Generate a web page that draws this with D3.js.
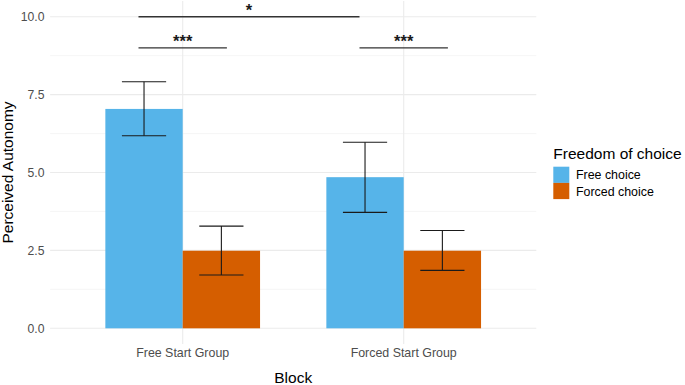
<!DOCTYPE html>
<html>
<head>
<meta charset="utf-8">
<script src="https://cdn.jsdelivr.net/npm/d3@7"></script>
<style>
  body { margin: 0; background: #fff; }
  svg { display: block; font-family: "Liberation Sans", Arial, sans-serif; }
</style>
</head>
<body>
<svg id="chart" width="685" height="385"></svg>
<script>
// data
const blocks = ["Free Start Group", "Forced Start Group"];
const choices = ["Free choice", "Forced choice"];
const choiceColors = ["#56B4E9", "#D55E00"];
const meanFree = [7.04, 4.85];
const meanForced = [2.49, 2.49];
const lowFree = [6.18, 3.72];
const highFree = [7.91, 5.97];
const lowForced = [1.71, 1.86];
const highForced = [3.28, 3.14];
const yTicks = [0, 2.5, 5, 7.5, 10];
const yMinor = [1.25, 3.75, 6.25, 8.75];
// significance brackets: [xmin, xmax, y, label] in data units
const sigX0 = [0.8, 1.8, 0.8];
const sigX1 = [1.2, 2.2, 1.8];
const sigY = [9, 9, 10];
const sigLabel = ["***", "***", "*"];

const svg = d3.select("#chart");

// scales (categories sit at 1 and 2, panel 0.4..2.6 like ggplot)
const x = d3.scaleLinear().domain([0.4, 2.6]).range([50.1, 536.3]);
const y = d3.scaleLinear().domain([-0.5, 10.5]).range([343.9, 1.1]);
const dodge = [-0.175, 0.175];
const barW = 0.35;

// grid
const grid = svg.append("g");
grid.selectAll("line.minor")
  .data(yMinor)
  .join("line")
    .attr("x1", x(0.4)).attr("x2", x(2.6))
    .attr("y1", d => y(d)).attr("y2", d => y(d))
    .attr("stroke", "#f2f2f2").attr("stroke-width", 0.7);
grid.selectAll("line.major")
  .data(yTicks)
  .join("line")
    .attr("x1", x(0.4)).attr("x2", x(2.6))
    .attr("y1", d => y(d)).attr("y2", d => y(d))
    .attr("stroke", "#ebebeb").attr("stroke-width", 1.1);
grid.selectAll("line.vmajor")
  .data(blocks)
  .join("line")
    .attr("x1", (d, i) => x(i + 1)).attr("x2", (d, i) => x(i + 1))
    .attr("y1", y(-0.5)).attr("y2", y(10.5))
    .attr("stroke", "#ebebeb").attr("stroke-width", 1.1);

// bars
const rows = [];
blocks.forEach((b, i) => {
  rows.push({ pos: i + 1 + dodge[0], mean: meanFree[i], lo: lowFree[i], hi: highFree[i], c: 0 });
  rows.push({ pos: i + 1 + dodge[1], mean: meanForced[i], lo: lowForced[i], hi: highForced[i], c: 1 });
});

svg.append("g").selectAll("rect")
  .data(rows)
  .join("rect")
    .attr("x", d => x(d.pos - barW / 2))
    .attr("width", d => x(d.pos + barW / 2) - x(d.pos - barW / 2))
    .attr("y", d => y(d.mean))
    .attr("height", d => y(0) - y(d.mean))
    .attr("fill", d => choiceColors[d.c]);

// error bars
const eb = svg.append("g").attr("stroke", "#1a1a1a").attr("stroke-width", 1.1);
rows.forEach(d => {
  eb.append("line").attr("x1", x(d.pos)).attr("x2", x(d.pos)).attr("y1", y(d.lo)).attr("y2", y(d.hi));
  eb.append("line").attr("x1", x(d.pos - 0.1)).attr("x2", x(d.pos + 0.1)).attr("y1", y(d.lo)).attr("y2", y(d.lo));
  eb.append("line").attr("x1", x(d.pos - 0.1)).attr("x2", x(d.pos + 0.1)).attr("y1", y(d.hi)).attr("y2", y(d.hi));
});

// significance brackets
const sig = svg.append("g");
sigY.forEach((v, i) => {
  sig.append("line")
    .attr("x1", x(sigX0[i])).attr("x2", x(sigX1[i]))
    .attr("y1", y(v)).attr("y2", y(v))
    .attr("stroke", "#333").attr("stroke-width", 1.4);
  sig.append("text")
    .attr("x", x((sigX0[i] + sigX1[i]) / 2))
    .attr("y", y(v) - 0.5)
    .attr("text-anchor", "middle")
    .attr("font-size", "16.5px")
    .attr("font-weight", "bold")
    .attr("fill", "#1a1a1a")
    .text(sigLabel[i]);
});

// y axis labels
svg.append("g").selectAll("text")
  .data(yTicks)
  .join("text")
    .attr("x", 44.5)
    .attr("y", d => y(d) + 4.3)
    .attr("text-anchor", "end")
    .attr("font-size", "12.2px")
    .attr("fill", "#4d4d4d")
    .text(d => d.toFixed(1));

// x axis labels
svg.append("g").selectAll("text")
  .data(blocks)
  .join("text")
    .attr("x", (d, i) => x(i + 1))
    .attr("y", 357)
    .attr("text-anchor", "middle")
    .attr("font-size", "12.4px")
    .attr("fill", "#4d4d4d")
    .text(d => d);

// axis titles
svg.append("text")
  .attr("x", x(1.5)).attr("y", 383)
  .attr("text-anchor", "middle")
  .attr("font-size", "15.5px")
  .attr("fill", "#000")
  .text("Block");
svg.append("text")
  .attr("transform", `translate(12.8, ${y(5)}) rotate(-90)`)
  .attr("text-anchor", "middle")
  .attr("font-size", "15.5px")
  .attr("fill", "#000")
  .text("Perceived Autonomy");

// legend
const legend = svg.append("g");
legend.append("text")
  .attr("x", 553.3).attr("y", 158.5)
  .attr("font-size", "15.5px")
  .attr("fill", "#000")
  .text("Freedom of choice");
legend.selectAll("rect")
  .data(choices)
  .join("rect")
    .attr("x", 553.3)
    .attr("y", (d, i) => 166.7 + i * 16.2)
    .attr("width", 16)
    .attr("height", 16.2)
    .attr("fill", (d, i) => choiceColors[i]);
legend.selectAll("text.lab")
  .data(choices)
  .join("text")
    .attr("class", "lab")
    .attr("x", 576)
    .attr("y", (d, i) => 179 + i * 17.3)
    .attr("font-size", "12.4px")
    .attr("fill", "#000")
    .text(d => d);
</script>
</body>
</html>
